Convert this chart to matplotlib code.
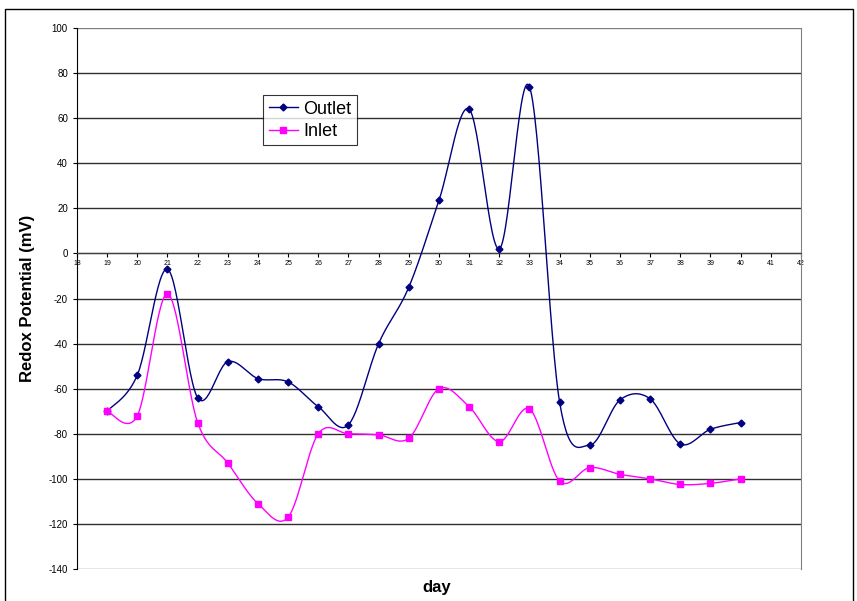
import numpy as np
import matplotlib.pyplot as plt
from matplotlib.patches import Rectangle

plt.rcParams['font.family'] = ['Liberation Sans', 'DejaVu Sans']
plt.rcParams['axes.unicode_minus'] = False

# data
days = [19, 20, 21, 22, 23, 24, 25, 26, 27, 28, 29, 30, 31, 32, 33, 34, 35, 36, 37, 38, 39, 40]
outlet = [-70, -54, -7, -64, -48, -55.5, -57, -68, -76, -40, -15, 23.5, 64, 2, 74,
          -66, -85, -65, -64.5, -84.5, -78, -75]
inlet = [-70, -72, -18, -75, -93, -111, -117, -80, -80, -80.5, -82, -60, -68, -83.5, -69,
         -101, -95, -98, -100, -102.5, -102, -100]
y_ticks = list(range(-140, 101, 20))
x_ticks = list(range(18, 43))


def smooth(x, y, n=30):
    # excel-like smoothed line (catmull-rom bezier)
    x = np.asarray(x, float)
    y = np.asarray(y, float)
    px = np.concatenate([[x[0]], x, [x[-1]]])
    py = np.concatenate([[y[0]], y, [y[-1]]])
    xs, ys = [], []
    t = np.linspace(0, 1, n)
    for i in range(1, len(px) - 2):
        p0 = np.array([px[i], py[i]])
        p3 = np.array([px[i + 1], py[i + 1]])
        c1 = p0 + (np.array([px[i + 1], py[i + 1]]) - np.array([px[i - 1], py[i - 1]])) / 6
        c2 = p3 - (np.array([px[i + 2], py[i + 2]]) - np.array([px[i], py[i]])) / 6
        b = ((1 - t) ** 3)[:, None] * p0 + (3 * (1 - t) ** 2 * t)[:, None] * c1 \
            + (3 * (1 - t) * t ** 2)[:, None] * c2 + (t ** 3)[:, None] * p3
        xs.extend(b[:, 0])
        ys.extend(b[:, 1])
    return xs, ys


fig = plt.figure(figsize=(8.57, 6.01), dpi=100)
ax = fig.add_axes([0.0898, 0.0532, 0.8448, 0.9002])

for yv in y_ticks:
    ax.axhline(yv, color='#303030' if yv not in (100, -140) else '#808080', lw=1.0, zorder=1)

sx, sy = smooth(days, outlet)
ax.plot(sx, sy, color='#000080', lw=1.0, zorder=3)
ax.plot(days, outlet, ls='none', marker='D', ms=3.5, color='#000080', zorder=4)
sx, sy = smooth(days, inlet)
ax.plot(sx, sy, color='#FF00FF', lw=1.0, zorder=3)
ax.plot(days, inlet, ls='none', marker='s', ms=4, color='#FF00FF', zorder=4)

# legend handles
ax.plot([], [], color='#000080', marker='D', ms=3.5, lw=1.0, label='Outlet')
ax.plot([], [], color='#FF00FF', marker='s', ms=4, lw=1.0, label='Inlet')
h, l = ax.get_legend_handles_labels()
leg = ax.legend(h[-2:], l[-2:], loc='upper left', bbox_to_anchor=(0.2575, 0.876),
                fontsize=13, frameon=True, fancybox=False, edgecolor='black',
                handlelength=1.6, handletextpad=0.3, borderpad=0.3, labelspacing=0.3,
                borderaxespad=0)
leg.get_frame().set_linewidth(0.8)
leg.set_zorder(5)

ax.set_xlim(18, 42)
ax.set_ylim(-140, 100)
ax.set_yticks(y_ticks)
ax.set_xticks(x_ticks)
ax.tick_params(axis='y', labelsize=7, length=3, width=0.8)
ax.tick_params(axis='x', labelsize=5, length=3, width=0.8, pad=2)

ax.spines['bottom'].set_position(('data', 0))
ax.spines['bottom'].set_color('#404040')
ax.spines['left'].set_color('black')
ax.spines['right'].set_color('#808080')
ax.spines['top'].set_visible(False)

ax.set_ylabel('Redox Potential (mV)', fontsize=12, fontweight='bold', labelpad=10)
fig.text(0.51, 0.022, 'day', fontsize=12, fontweight='bold', ha='center', va='center')

fig.patches.append(Rectangle((5 / 857, -0.05), 848 / 857, 1 - 9 / 601 + 0.05,
                             transform=fig.transFigure, fill=False, edgecolor='black',
                             lw=1.0, clip_on=False))

fig.savefig('out.png', dpi=100)
